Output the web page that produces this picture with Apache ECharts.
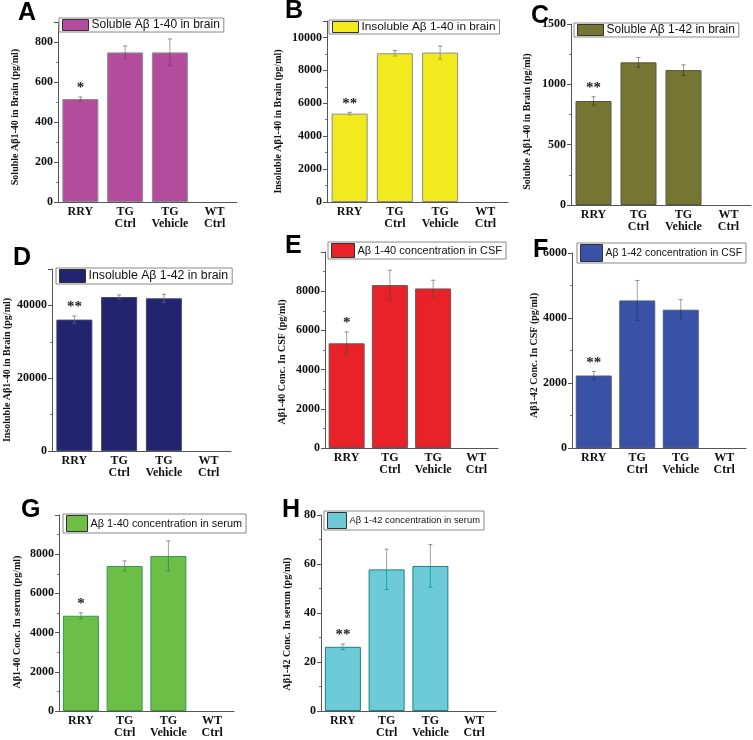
<!DOCTYPE html>
<html><head><meta charset="utf-8">
<script src="https://cdn.jsdelivr.net/npm/echarts@6/dist/echarts.min.js"></script>
<style>html,body{margin:0;padding:0;background:#fff}#c{width:753px;height:740px}</style>
</head><body><div id="c"></div>
<script>
// ---------- DATA ----------
const categories = ['RRY', 'TG\nCtrl', 'TG\nVehicle', 'WT\nCtrl'];
const panelLetters = ['A', 'B', 'C', 'D', 'E', 'F', 'G', 'H'];
const legendNames = [
  'Soluble Aβ 1-40 in brain',
  'Insoluble Aβ 1-40 in brain',
  'Soluble Aβ 1-42 in brain',
  'Insoluble Aβ 1-42 in brain',
  'Aβ 1-40 concentration in CSF',
  'Aβ 1-42 concentration in CSF',
  'Aβ 1-40 concentration in serum',
  'Aβ 1-42 concentration in serum'
];
const yAxisNames = [
  'Soluble Aβ1-40 in Brain (pg/ml)',
  'Insoluble Aβ1-40 in Brain (pg/ml)',
  'Soluble Aβ1-40 in Brain (pg/ml)',
  'Insoluble Aβ1-40 in Brain (pg/ml)',
  'Aβ1-40 Conc. In CSF (pg/ml)',
  'Aβ1-42 Conc. In CSF (pg/ml)',
  'Aβ1-40 Conc. In serum (pg/ml)',
  'Aβ1-42 Conc. In serum (pg/ml)'
];
const valuesA = [515, 748, 748, 0];        const errorsA = [10, 32, 67, 0];
const valuesB = [5370, 9040, 9080, 0];     const errorsB = [80, 170, 400, 0];
const valuesC = [862, 1182, 1118, 0];      const errorsC = [35, 41, 44, 0];
const valuesD = [36100, 42300, 41950, 0];  const errorsD = [1000, 550, 1100, 0];
const valuesE = [5340, 8310, 8140, 0];     const errorsE = [580, 760, 420, 0];
const valuesF = [2230, 4540, 4255, 0];     const errorsF = [128, 615, 308, 0];
const valuesG = [4860, 7400, 7910, 0];     const errorsG = [145, 256, 767, 0];
const valuesH = [26.2, 57.8, 59.2, 0];     const errorsH = [1.1, 8.2, 8.7, 0];
const significanceA = ['*', '', '', ''];
const significanceB = ['**', '', '', ''];
const significanceC = ['**', '', '', ''];
const significanceD = ['**', '', '', ''];
const significanceE = ['*', '', '', ''];
const significanceF = ['**', '', '', ''];
const significanceG = ['*', '', '', ''];
const significanceH = ['**', '', '', ''];
const yMaxes = [900, 11000, 1500, 50000, 10000, 6000, 10000, 80];
const yIntervals = [200, 2000, 500, 20000, 2000, 2000, 2000, 20];

const allValues = [valuesA, valuesB, valuesC, valuesD, valuesE, valuesF, valuesG, valuesH];
const allErrors = [errorsA, errorsB, errorsC, errorsD, errorsE, errorsF, errorsG, errorsH];
const allSig = [significanceA, significanceB, significanceC, significanceD, significanceE, significanceF, significanceG, significanceH];

// ---------- LAYOUT / STYLE ----------
const SERIF = '"Liberation Serif", "Times New Roman", serif';
const SANS = '"Liberation Sans", Arial, sans-serif';
const layout = [
  {grid:{left:58,top:22,width:179,height:180}, gap:38, shift:5, showMax:false, lg:{left:59,top:18,w:26,h:11,fs:12}, tt:{left:18,top:1}, fill:'#B44C9E', border:'#8d8d8d', inner:'#8a3b7a'},
  {grid:{left:327,top:21,width:181,height:181}, gap:44, shift:10, showMax:false, lg:{left:329,top:20,w:26,h:11,fs:11.8}, tt:{left:285,top:-1}, fill:'#F2EA1C', border:'#8d8d8d', inner:'#a8a23a'},
  {grid:{left:571,top:24,width:180,height:181}, gap:39, shift:7, showMax:true, lg:{left:574,top:23,w:26,h:11,fs:12}, tt:{left:531,top:4}, fill:'#747632', border:'#555540', inner:'#4a4b20'},
  {grid:{left:52,top:269,width:179,height:182}, gap:40, shift:10, showMax:false, lg:{left:56,top:268,w:26,h:13,fs:12.3}, tt:{left:13,top:246}, fill:'#232470', border:'#45466e', inner:'#555577'},
  {grid:{left:325,top:252,width:173,height:196}, gap:38, shift:12, showMax:false, lg:{left:328,top:242,w:23,h:14,fs:11}, tt:{left:285,top:234}, fill:'#E92128', border:'#6e5050', inner:'#8a3a3a'},
  {grid:{left:572,top:253,width:174,height:195}, gap:33, shift:5, showMax:true, lg:{left:577,top:243,w:22,h:17,fs:10.4}, tt:{left:533,top:238}, fill:'#3A52A6', border:'#4a5a88', inner:'#2a3a78'},
  {grid:{left:59,top:515,width:175,height:196}, gap:37, shift:9, showMax:false, lg:{left:63,top:514,w:21,h:16,fs:10.9}, tt:{left:21,top:498}, fill:'#6CBE46', border:'#2E9B4E', inner:'#2E9B4E'},
  {grid:{left:321,top:515,width:175,height:196}, gap:29, shift:11, showMax:true, lg:{left:324,top:511,w:19,h:16,fs:9.4}, tt:{left:282,top:498}, fill:'#6CCBD7', border:'#1E7F86', inner:'#13A3A8'}
];

const grids = [], xAxes = [], yAxes = [], series = [], legends = [], titles = [];
layout.forEach((L, i) => {
  grids.push(Object.assign({outerBoundsMode:'none', containLabel:false}, L.grid));
  xAxes.push({
    type:'category', gridIndex:i, data:categories,
    axisLine:{lineStyle:{color:'#555', width:1}},
    axisTick:{show:false},
    axisLabel:{color:'#111', fontFamily:SERIF, fontWeight:'bold', fontSize:12, lineHeight:12, margin:4, interval:0}
  });
  yAxes.push({
    type:'value', gridIndex:i, min:0, max:yMaxes[i], interval:yIntervals[i],
    name:yAxisNames[i], nameLocation:'middle', nameGap:L.gap,
    nameTextStyle:{color:'#111', fontFamily:SERIF, fontWeight:'bold', fontSize:10, padding:[0, 2 * L.shift, 0, 0]},
    axisLine:{show:true, lineStyle:{color:'#555', width:1}},
    axisTick:{show:true, length:4, lineStyle:{color:'#555'}},
    minorTick:{show:true, splitNumber:2, length:2, lineStyle:{color:'#777'}},
    splitLine:{show:false},
    axisLabel:{color:'#111', fontFamily:SERIF, fontWeight:'bold', fontSize:12, margin:5, showMaxLabel:L.showMax, formatter:(v) => String(v)}
  });
  series.push({
    type:'bar', name:legendNames[i], xAxisIndex:i, yAxisIndex:i,
    data:allValues[i].map(v => v === 0 ? {value:v, itemStyle:{borderWidth:0}} : v),
    barWidth:36,
    itemStyle:{color:L.fill, borderColor:L.border, borderWidth:1},
    emphasis:{disabled:true}, z:2
  });
  const sig = allSig[i];
  const inner = L.inner;
  series.push({
    type:'custom', name:'err' + i, xAxisIndex:i, yAxisIndex:i, z:5,
    data:allValues[i].map((v, k) => [k, v, allErrors[i][k]]),
    renderItem:(params, api) => {
      const k = api.value(0), v = api.value(1), e = api.value(2);
      const mid = api.coord([k, v]);
      const top = api.coord([k, v + e]);
      const bot = api.coord([k, v - e]);
      const children = [];
      if (e > 0) {
        children.push({type:'line', shape:{x1:mid[0], y1:top[1], x2:mid[0], y2:mid[1]}, style:{stroke:'#a0a0a0', lineWidth:1}});
        children.push({type:'line', shape:{x1:mid[0], y1:mid[1], x2:mid[0], y2:bot[1]}, style:{stroke:inner, lineWidth:1}});
        children.push({type:'line', shape:{x1:mid[0]-2, y1:top[1], x2:mid[0]+2, y2:top[1]}, style:{stroke:'#888', lineWidth:1}});
        children.push({type:'line', shape:{x1:mid[0]-2, y1:bot[1], x2:mid[0]+2, y2:bot[1]}, style:{stroke:inner, lineWidth:1}});
      }
      const s = sig[params.dataIndex];
      if (s) {
        children.push({type:'text', x:mid[0], y:top[1] - 1, style:{text:s, fill:'#222', font:'bold 15px ' + SERIF, align:'center', verticalAlign:'bottom'}});
      }
      return {type:'group', children};
    }
  });
  legends.push({
    data:[{name:legendNames[i], icon:'rect'}], left:L.lg.left, top:L.lg.top, orient:'horizontal',
    itemWidth:L.lg.w, itemHeight:L.lg.h, itemGap:4, padding:[1, 4, 1, 3],
    borderColor:'#888', borderWidth:1, backgroundColor:'#fff',
    selectedMode:false,
    itemStyle:{borderColor:'#333', borderWidth:1},
    textStyle:{color:'#111', fontFamily:SANS, fontSize:L.lg.fs, padding:[0,0,0,-2]}
  });
  titles.push({
    text:panelLetters[i], left:L.tt.left, top:L.tt.top, padding:0,
    textStyle:{color:'#000', fontFamily:SANS, fontWeight:'bold', fontSize:25}
  });
});

const chart = echarts.init(document.getElementById('c'), null, {renderer:'canvas'});
chart.setOption({
  animation:false,
  backgroundColor:'#fff',
  title:titles, grid:grids, xAxis:xAxes, yAxis:yAxes, legend:legends, series:series
});
</script></body></html>
